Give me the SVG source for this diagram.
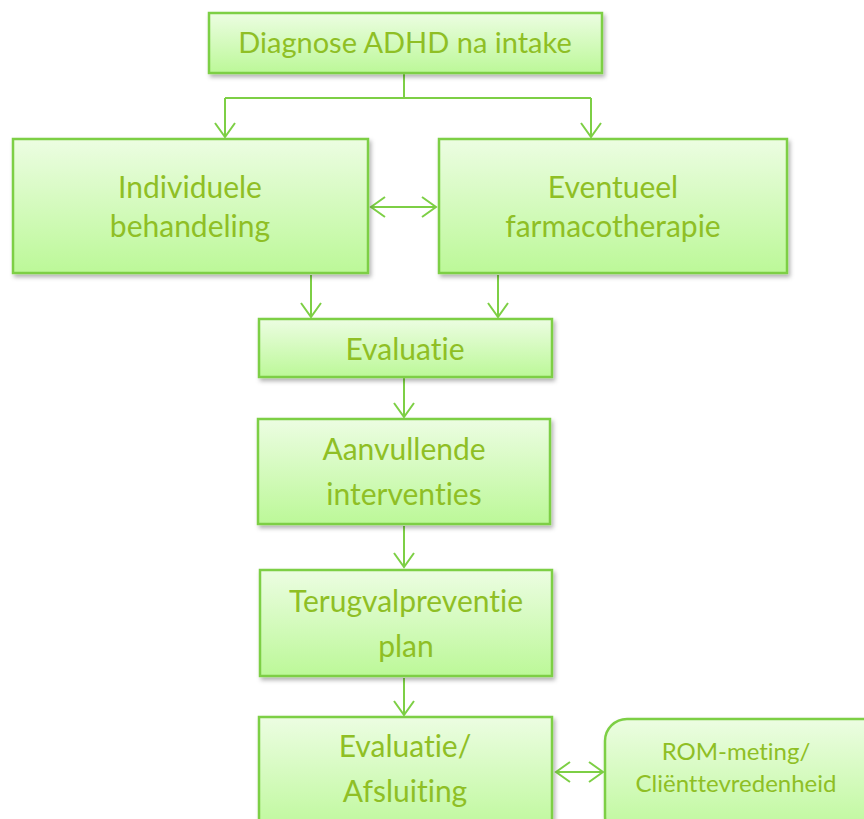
<svg xmlns="http://www.w3.org/2000/svg" width="864" height="819" viewBox="0 0 864 819">
<defs>
<linearGradient id="g" x1="0" y1="0" x2="0" y2="1">
<stop offset="0" stop-color="#ecfde2"/>
<stop offset="1" stop-color="#bcf898"/>
</linearGradient>
<filter id="sh" x="-10%" y="-10%" width="125%" height="130%">
<feDropShadow dx="2" dy="3" stdDeviation="2" flood-color="#000" flood-opacity="0.3"/>
</filter>
<marker id="ah" markerUnits="userSpaceOnUse" markerWidth="20" markerHeight="24" viewBox="-16 -12 18 24" refX="0" refY="0" orient="auto-start-reverse">
<path d="M-14,-10 L0,0 L-14,10" fill="none" stroke="#7dcf45" stroke-width="2"/>
</marker>
</defs>
<style>
.box{fill:url(#g);stroke:#7dcf45;stroke-width:2.5;filter:url(#sh)}
.t{font-family:Lato,"Open Sans",sans-serif;font-size:30px;fill:#8fbf25;text-anchor:middle;font-variant-ligatures:none}
.m{font-size:29px}
.s{font-size:24px}
.c{fill:none;stroke:#7dcf45;stroke-width:2}
.a{marker-end:url(#ah)}
.d{marker-start:url(#ah);marker-end:url(#ah)}
</style>
<rect width="864" height="819" fill="#fff"/>
<g id="connectors">
<path class="c" d="M404,73 V98 M225,98 H591"/>
<path class="c a" d="M225,98 V137"/>
<path class="c a" d="M591,98 V137"/>
<path class="c d" d="M371,207 H436"/>
<path class="c a" d="M311,275 V317"/>
<path class="c a" d="M498,275 V317"/>
<path class="c a" d="M404,378 V417"/>
<path class="c a" d="M404,526 V567"/>
<path class="c a" d="M404,678 V715"/>
<path class="c d" d="M556,772 H603"/>
</g>
<g id="n1"><rect class="box" x="209" y="13" width="393" height="60"/><text class="t m" x="405" y="53">Diagnose ADHD na intake</text></g>
<g id="n2"><rect class="box" x="13" y="139" width="355" height="134"/><text class="t" x="190" y="198">Individuele</text><text class="t" x="190" y="237">behandeling</text></g>
<g id="n3"><rect class="box" x="439" y="139" width="348" height="134"/><text class="t" x="613" y="198">Eventueel</text><text class="t" x="613" y="237">farmacotherapie</text></g>
<g id="n4"><rect class="box" x="259" y="319" width="293" height="58"/><text class="t" x="405" y="360">Evaluatie</text></g>
<g id="n5"><rect class="box" x="258" y="419" width="292" height="105"/><text class="t" x="404" y="460">Aanvullende</text><text class="t" x="404" y="505">interventies</text></g>
<g id="n6"><rect class="box" x="260" y="570" width="292" height="106"/><text class="t" x="406" y="612">Terugvalpreventie</text><text class="t" x="406" y="657">plan</text></g>
<g id="n7"><rect class="box" x="259" y="717" width="293" height="120"/><text class="t" x="405" y="757">Evaluatie/</text><text class="t" x="405" y="802">Afsluiting</text></g>
<g id="n8"><rect class="box" x="605" y="719" width="290" height="120" rx="22"/><text class="t s" x="736" y="760">ROM-meting/</text><text class="t s" x="736" y="792">Cliënttevredenheid</text></g>
</svg>
